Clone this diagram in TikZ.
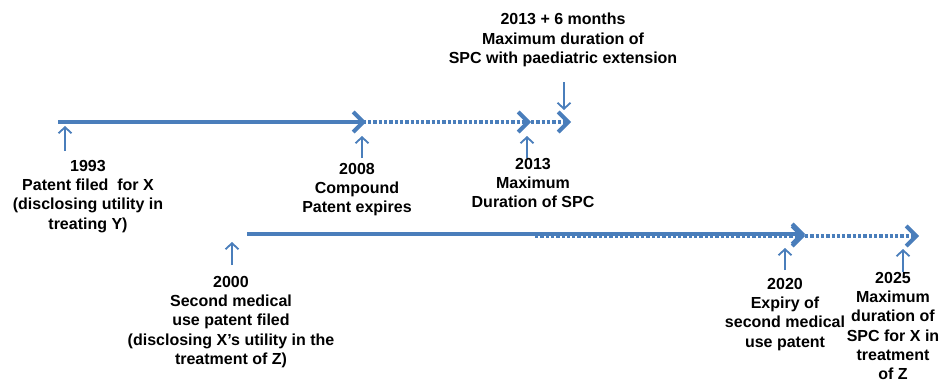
\documentclass[tikz,border=0pt]{standalone}
\usepackage{fontspec}
\setmainfont{Liberation Sans}
\usetikzlibrary{arrows.meta}
\definecolor{lineblue}{HTML}{4A7EBB}

\begin{document}
\begin{tikzpicture}[x=1pt, y=-1pt,
  every node/.style={font=\fontsize{16}{19.3}\selectfont\bfseries, align=center, anchor=north, inner sep=0pt},
  mainline/.style={lineblue, line width=4pt, -{Straight Barb[length=10pt,width=20pt]}},
  dotline/.style={mainline, dash pattern=on 3.3pt off 2pt},
  tick/.style={lineblue, line width=1.8pt, -{Straight Barb[length=6pt,width=13pt]}}]
  \useasboundingbox (0,0) rectangle (941,383);

  % top timeline: compound patent
  \coordinate (start1993) at (58,122);
  \coordinate (end2008) at (366,122);
  \coordinate (dotstart) at (172,122);
  \coordinate (end2013) at (531,122);
  \coordinate (end2013b) at (571,122);
  \draw[mainline] (start1993) -- (end2008);
  \draw[dotline] (dotstart) -- (end2013);
  \draw[dotline] (end2013) -- (end2013b);

  % bottom timeline: second medical use patent
  \coordinate (start2000) at (247,234);
  \coordinate (end2020) at (805,234);
  \coordinate (dotstart2) at (535,236);
  \coordinate (end2020b) at (805,236);
  \coordinate (end2025) at (919,236);
  \draw[mainline] (start2000) -- (end2020);
  \draw[dotline] (dotstart2) -- (end2020b);
  \draw[dotline] (end2020b) -- (end2025);

  % labels
  \node (t1993) at (88,160) {1993\\Patent filed\ \ for X\\(disclosing utility in\\treating Y)};
  \node (t2008) at (357,163) {2008\\Compound\\Patent expires};
  \node (t2013) at (533,158) {2013\\Maximum\\Duration of SPC};
  \node (tsix) at (563,13) {2013 + 6 months\\Maximum duration of\\SPC with paediatric extension};
  \node (t2000) at (231,276) {2000\\Second medical\\use patent filed\\(disclosing X’s utility in the\\treatment of Z)};
  \node (t2020) at (785,278) {2020\\Expiry of\\second medical\\use patent};
  \node (t2025) at (893,272) {2025\\Maximum\\duration of\\SPC for X in\\treatment\\of Z};

  % small pointers
  \coordinate (p1993a) at (65,151);  \coordinate (p1993b) at (65,126);
  \coordinate (p2008a) at (362,158); \coordinate (p2008b) at (362,136);
  \coordinate (p2013a) at (527,158); \coordinate (p2013b) at (527,136);
  \coordinate (psixa) at (564,82);   \coordinate (psixb) at (564,110);
  \coordinate (p2000a) at (232,265); \coordinate (p2000b) at (232,242);
  \coordinate (p2020a) at (785,270); \coordinate (p2020b) at (785,248);
  \coordinate (p2025a) at (903,272); \coordinate (p2025b) at (903,249);
  \draw[tick] (p1993a) -- (p1993b);
  \draw[tick] (p2008a) -- (p2008b);
  \draw[tick] (p2013a) -- (p2013b);
  \draw[tick] (psixa) -- (psixb);
  \draw[tick] (p2000a) -- (p2000b);
  \draw[tick] (p2020a) -- (p2020b);
  \draw[tick] (p2025a) -- (p2025b);
\end{tikzpicture}
\end{document}
